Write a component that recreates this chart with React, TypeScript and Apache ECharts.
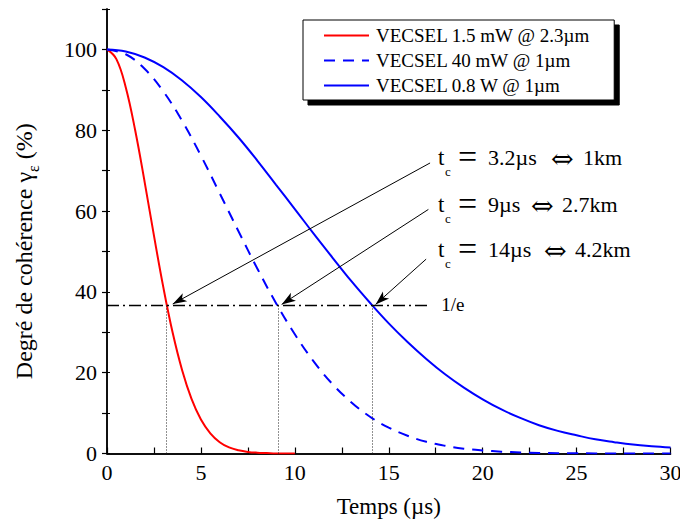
import React, { useEffect, useRef } from 'react';
import * as echarts from 'echarts';

const FONT = 'Liberation Serif';

// Data
const seriesNames = ['VECSEL 1.5 mW @ 2.3µm', 'VECSEL 40 mW @ 1µm', 'VECSEL 0.8 W @ 1µm'];

const redTime = [0, 0.5, 1, 1.5, 2, 2.5, 3, 3.5, 4, 4.5, 5, 5.5, 6, 6.5, 7, 7.5, 8, 8.5, 9, 9.5, 10];
const redValues = [100, 97.6, 90.6, 80.0, 67.3, 53.9, 41.1, 29.8, 20.6, 13.5, 8.4, 5.0, 2.8, 1.5, 0.8, 0.4, 0.2, 0.1, 0, 0, 0];

const blueTime = [0, 1, 2, 3, 4, 5, 6, 7, 8, 9, 10, 11, 12, 13, 14, 15, 16, 17, 18, 19, 20, 21, 22, 23, 24, 25, 26, 27, 28, 29, 30];
const dashedValues = [100, 98.8, 95.2, 89.6, 82.3, 73.7, 64.4, 55.0, 45.8, 37.2, 29.5, 22.8, 17.2, 12.7, 9.1, 6.4, 4.4, 2.9, 1.9, 1.2, 0.76, 0.46, 0.27, 0.15, 0.09, 0.05, 0.02, 0.01, 0, 0, 0];
const solidValues = [100, 99.5, 98.0, 95.6, 92.3, 88.2, 83.4, 78.2, 72.5, 66.5, 60.5, 54.4, 48.5, 42.7, 37.3, 32.2, 27.6, 23.4, 19.6, 16.3, 13.4, 10.9, 8.8, 7.0, 5.6, 4.5, 3.5, 2.8, 2.2, 1.8, 1.5];

const xLabelTicks = [0, 5, 10, 15, 20, 25, 30];
const yLabelTicks = [0, 20, 40, 60, 80, 100];

const invE = 36.8;
const invELineEnd = 17.1;
const crossTimes = [3.18, 9.1, 14.13];
const arrowStarts = [[17.2, 71.9], [17.11, 60.4], [16.99, 48.1]];
const arrowEnds = [[3.5, 37.0], [9.3, 36.9], [14.3, 36.9]];
const tcTimes = ['3.2µs', '9µs', '14µs'];
const tcDistances = ['1km', '2.7km', '4.2km'];

const pairs = (xs: number[], ys: number[]) => xs.map((x, i) => [x, ys[i]]);

export default function App() {
  const ref = useRef<HTMLDivElement>(null);
  useEffect(() => {
    if (!ref.current) return;
    const chart = echarts.init(ref.current, undefined, { renderer: 'svg' });
    const black = '#000';
    const labelRows = [157.5, 204.8, 249.8];
    const arrowX = [551, 531, 544];
    const kmX = [583, 562, 575];
    const graphics: any[] = [];
    const txt = (x: number, y: number, text: string, fontSize: number, fontFamily = FONT) => ({
      type: 'text', x, y, silent: true,
      style: { text, fill: black, fontSize, fontFamily, verticalAlign: 'middle', align: 'left' },
    });
    labelRows.forEach((cy, i) => {
      graphics.push(
        txt(438, cy, 't', 23),
        txt(445, cy + 14, 'c', 13),
        txt(458, cy - 1, '=', 34),
        txt(488, cy, tcTimes[i], 22),
        txt(arrowX[i], cy + 1, '⇔', 27, 'DejaVu Serif'),
        txt(kmX[i], cy, tcDistances[i], 22)
      );
    });

    const option: any = {
      animation: false,
      backgroundColor: '#fff',
      grid: { left: 107, right: 9.5, top: 9, bottom: 70.5, containLabel: false, outerBoundsMode: 'none' },
      legend: {
        data: seriesNames,
        orient: 'vertical',
        left: 303,
        top: 20,
        itemWidth: 45,
        itemHeight: 14,
        itemGap: 6,
        padding: [6, 24, 5, 20],
        backgroundColor: '#fff',
        borderColor: black,
        borderWidth: 1,
        shadowColor: black,
        shadowBlur: 0,
        shadowOffsetX: 5,
        shadowOffsetY: 5,
        itemStyle: { opacity: 0 },
        textStyle: { fontFamily: FONT, fontSize: 19, color: black, lineHeight: 18, padding: [0, 0, 0, 2] },
      },
      xAxis: [
        {
          type: 'value', min: 0, max: 30, interval: 2.5,
          name: 'Temps (µs)', nameLocation: 'middle', nameGap: 41,
          nameTextStyle: { fontFamily: FONT, fontSize: 23, color: black },
          axisLine: { lineStyle: { color: black, width: 1.5 } },
          axisTick: { inside: true, length: 6, lineStyle: { color: black, width: 1.2 } },
          axisLabel: {
            interval: 0, margin: 8, fontFamily: FONT, fontSize: 22, color: black,
            formatter: (v: number) => (xLabelTicks.includes(v) ? String(v) : ''),
          },
          splitLine: { show: false },
        },
        {
          type: 'value', min: 0, max: 30, interval: 2.5, position: 'top',
          axisLine: { show: true, lineStyle: { color: black, width: 1.5 } },
          axisTick: { inside: false, length: 3, lineStyle: { color: black, width: 1 } },
          axisLabel: { show: false },
          splitLine: { show: false },
        },
      ],
      yAxis: [
        {
          type: 'value', min: 0, max: 110, interval: 10,
          name: '{a|Degré de cohérence γ}{s|ε}{a| (%)}', nameLocation: 'middle', nameGap: 66,
          nameTextStyle: {
            fontFamily: FONT, fontSize: 24, color: black, padding: [0, 40, 0, 0],
            rich: {
              a: { fontFamily: FONT, fontSize: 24, color: black, lineHeight: 34, verticalAlign: 'middle' },
              s: { fontFamily: FONT, fontSize: 16, color: black, verticalAlign: 'bottom' },
            },
          },
          axisLine: { show: true, lineStyle: { color: black, width: 1.5 } },
          axisTick: { inside: false, length: 5, lineStyle: { color: black, width: 1.2 } },
          axisLabel: {
            interval: 0, margin: 10, fontFamily: FONT, fontSize: 22, color: black,
            formatter: (v: number) => (yLabelTicks.includes(v) ? String(v) : ''),
          },
          splitLine: { show: false },
        },
        {
          type: 'value', min: 0, max: 110, interval: 10, position: 'right',
          axisLine: { show: true, lineStyle: { color: black, width: 1.5 } },
          axisTick: { inside: false, length: 3, lineStyle: { color: black, width: 1 } },
          axisLabel: { show: false },
          splitLine: { show: false },
        },
      ],
      series: [
        {
          name: seriesNames[0], type: 'line', data: pairs(redTime, redValues),
          symbol: 'none', smooth: 0.4,
          lineStyle: { color: '#ff0000', width: 2 }, itemStyle: { color: '#ff0000' }, z: 3,
        },
        {
          name: seriesNames[1], type: 'line', data: pairs(blueTime, dashedValues),
          symbol: 'none', smooth: 0.4,
          lineStyle: { color: '#0000ff', width: 2, type: [11, 8] }, itemStyle: { color: '#0000ff' }, z: 3,
        },
        {
          name: seriesNames[2], type: 'line', data: pairs(blueTime, solidValues),
          symbol: 'none', smooth: 0.4,
          lineStyle: { color: '#0000ff', width: 2 }, itemStyle: { color: '#0000ff' }, z: 3,
        },
        {
          name: 'refs', type: 'line', data: [], silent: true, z: 2,
          markLine: {
            silent: true, symbol: 'none', animation: false,
            label: { show: false },
            data: [
              [
                { coord: [0, invE], lineStyle: { color: black, width: 1.3, type: [12, 4, 2, 4] },
                  label: { show: true, position: 'end', formatter: '1/e', distance: 13, color: black, fontFamily: FONT, fontSize: 19 } },
                { coord: [invELineEnd, invE] },
              ],
              ...crossTimes.map((t) => [
                { coord: [t, 0], lineStyle: { color: '#222', width: 1, type: [1, 2] } },
                { coord: [t, invE] },
              ]),
            ],
          },
        },
        {
          name: 'arrows', type: 'line', data: [], silent: true, z: 4,
          markLine: {
            silent: true, symbol: ['none', 'arrow'], symbolSize: [7, 14], animation: false,
            label: { show: false },
            lineStyle: { color: black, width: 1, type: 'solid' },
            itemStyle: { color: black },
            data: arrowStarts.map((s, i) => [{ coord: s }, { coord: arrowEnds[i] }]),
          },
        },
      ],
      graphic: graphics,
    };
    chart.setOption(option);
    return () => chart.dispose();
  }, []);
  return <div ref={ref} style={{ position: 'absolute', left: 0, top: 0, width: 680, height: 524 }} />;
}
